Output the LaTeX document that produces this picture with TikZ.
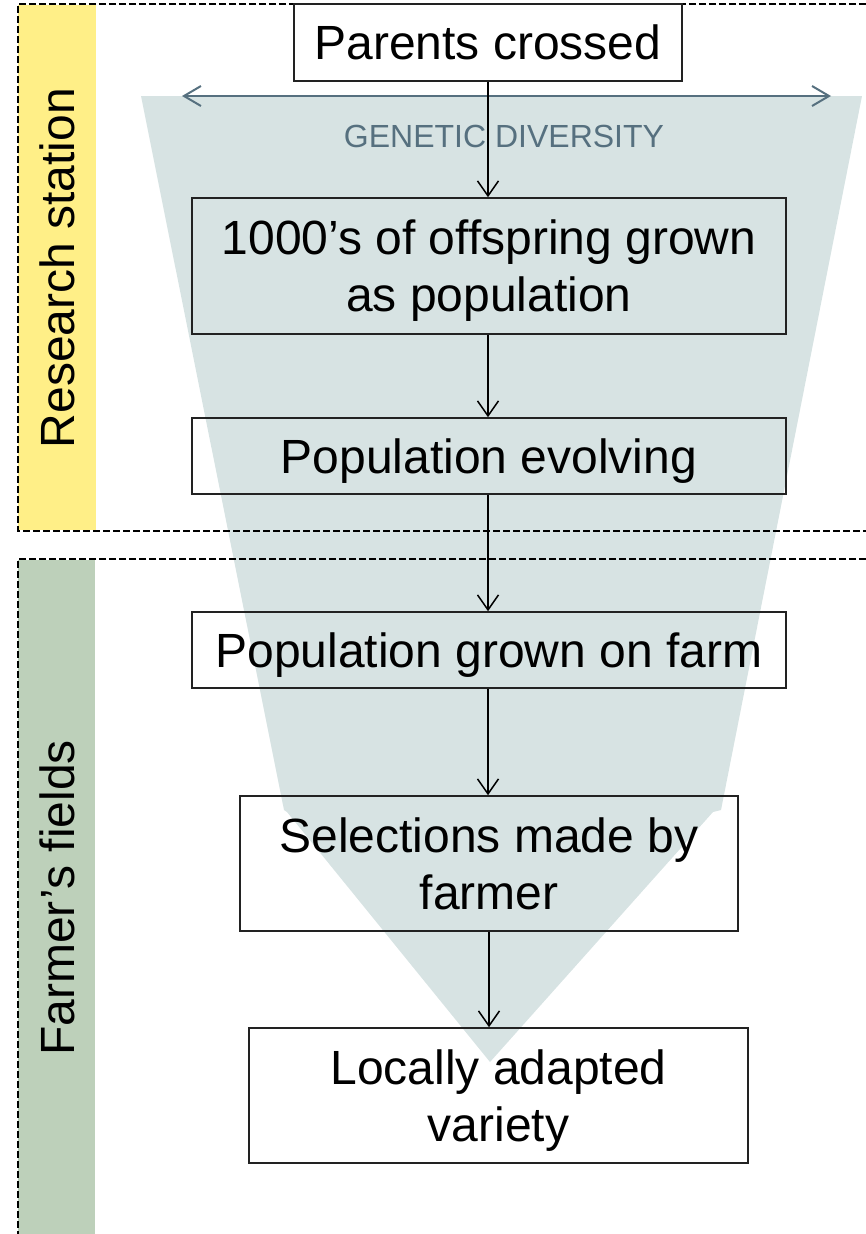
\documentclass[tikz,border=0pt]{standalone}
\usepackage{fontspec}
\setmainfont{Liberation Sans}
\usetikzlibrary{arrows.meta}
\definecolor{funnelc}{HTML}{D7E3E3}
\definecolor{slatec}{HTML}{56707F}
\definecolor{yellowc}{HTML}{FFEF87}
\definecolor{greenc}{HTML}{BDD0BA}
\definecolor{boxc}{HTML}{222222}
\tikzset{
  stepbox/.style={draw=boxc, line width=1.6pt, rectangle, align=center, inner sep=0pt,
    font=\fontsize{48}{57}\selectfont},
  oneline/.style={text height=39pt, text depth=5pt},
  twoline/.style={text height=96pt, text depth=5pt},
  flowarrow/.style={draw=black, line width=1.5pt, -{Straight Barb[length=15pt,width=21pt,line width=1.5pt]}},
  sectline/.style={draw=black, line width=1.5pt, dash pattern=on 7pt off 3pt},
  sidelabel/.style={rotate=90, font=\fontsize{48}{57}\selectfont, inner sep=0pt},
}
\begin{document}
\begin{tikzpicture}[x=1pt,y=-1pt]
\useasboundingbox (0,0) rectangle (866,1234);
% side bands
\fill[yellowc] (18,5) rectangle (96,530);
\fill[greenc] (18,560) rectangle (95,1234);
% funnel
\fill[funnelc] (141,96) -- (862,96) -- (721,810) -- (713,812) -- (490,1062) -- (287,812) -- (284,810) -- cycle;
% section dashed outlines
\draw[sectline] (866,4) -- (18,4) -- (18,531) -- (866,531);
\draw[sectline] (866,559) -- (18,559) -- (18,1234);
% side labels
\node[sidelabel] (rs) at (57,268) {Research station};
\node[sidelabel] (ff) at (57,898) {Farmer’s fields};
% genetic diversity arrow
\coordinate (gdl) at (182,96);
\coordinate (gdr) at (831,96);
\draw[slatec, line width=2pt, {Straight Barb[length=17pt,width=20pt,line width=2pt]}-{Straight Barb[length=17pt,width=20pt,line width=2pt]}] (gdl) -- (gdr);
\node[text=slatec, font=\fontsize{32}{38}\selectfont, inner sep=0pt] (gd) at (504,136) {GENETIC DIVERSITY};
% boxes
\node[stepbox, oneline, fill=white, minimum width=388pt, minimum height=77pt] (p) at (488,42.5) {Parents crossed};
\node[stepbox, twoline, minimum width=594pt, minimum height=136pt] (o) at (489,266) {1000’s of offspring grown\\as population};
\node[stepbox, oneline, minimum width=594pt, minimum height=76pt] (e) at (489,456) {Population evolving};
\node[stepbox, oneline, minimum width=594pt, minimum height=76pt] (f) at (489,650) {Population grown on farm};
\node[stepbox, twoline, minimum width=498pt, minimum height=135pt] (s) at (489,863.5) {Selections made by\\farmer};
\node[stepbox, twoline, minimum width=499pt, minimum height=135pt] (l) at (498.5,1095.5) {Locally adapted\\variety};
% arrows
\draw[flowarrow] (p.south -| 488,0) -- (o.north -| 488,0);
\draw[flowarrow] (o.south -| 488,0) -- (e.north -| 488,0);
\draw[flowarrow] (e.south -| 488,0) -- (f.north -| 488,0);
\draw[flowarrow] (f.south -| 488,0) -- (s.north -| 488,0);
\draw[flowarrow] (s.south -| 489,0) -- (l.north -| 489,0);
\end{tikzpicture}
\end{document}
